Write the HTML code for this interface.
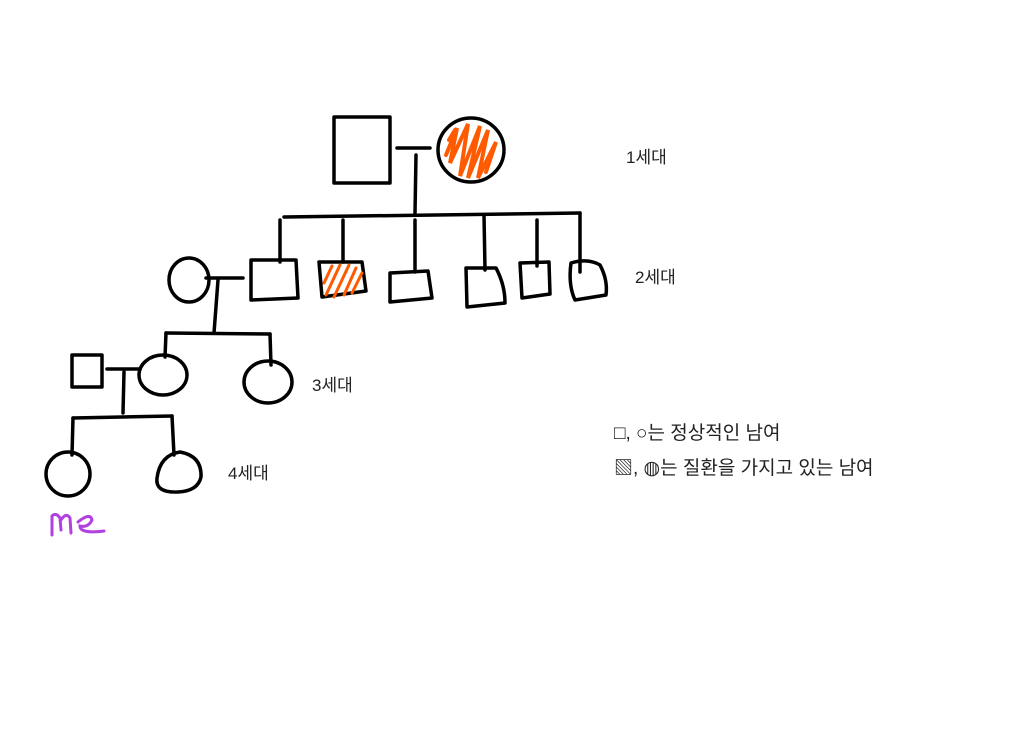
<!DOCTYPE html>
<html><head><meta charset="utf-8"><style>
html,body{margin:0;padding:0;background:#fff;width:1024px;height:734px;overflow:hidden}
svg{display:block}
text{font-family:"Liberation Sans","Noto Sans CJK KR",sans-serif;fill:#222}
</style></head><body>
<svg width="1024" height="734" viewBox="0 0 1024 734">
<g fill="none" stroke="#000" stroke-width="3.5" stroke-linecap="round" stroke-linejoin="round">
<rect x="334" y="117" width="56" height="66"/>
<line x1="397" y1="148" x2="430" y2="148"/>
<ellipse cx="471" cy="150" rx="33" ry="32" fill="#fff"/>
<line x1="416" y1="155" x2="415" y2="213"/>
<line x1="284" y1="217" x2="580" y2="213"/>
<line x1="280" y1="220" x2="280" y2="262"/>
<line x1="343" y1="220" x2="343" y2="262"/>
<line x1="415" y1="220" x2="415" y2="272"/>
<line x1="484" y1="215" x2="485" y2="270"/>
<line x1="537" y1="220" x2="537" y2="266"/>
<line x1="580" y1="213" x2="580" y2="272"/>
<ellipse cx="189" cy="280" rx="20" ry="22"/>
<line x1="206" y1="278" x2="243" y2="278"/>
<line x1="218" y1="280" x2="214" y2="333"/>
<path d="M251 260 L296 260 L298 298 L251 300 Z"/>
<path d="M319 262 L362 262 L366 291 L322 297 Z"/>
<path d="M390 273 L428 271 L432 298 L390 302 Z"/>
<path d="M466 268 L496 268 Q505 285 505 303 L467 307 Z"/>
<path d="M520 263 L549 262 L550 294 L522 298 Z"/>
<path d="M571 263 Q588 258 600 265 Q608 280 606 295 L575 300 Q568 285 571 263 Z"/>
<line x1="166" y1="333" x2="270" y2="334"/>
<line x1="166" y1="333" x2="165" y2="357"/>
<line x1="270" y1="334" x2="271" y2="365"/>
<ellipse cx="163" cy="375" rx="24" ry="20"/>
<ellipse cx="268" cy="382" rx="24" ry="21"/>
<rect x="72" y="355" width="30" height="32"/>
<line x1="107" y1="369" x2="140" y2="369"/>
<line x1="124" y1="372" x2="123" y2="413"/>
<line x1="73" y1="418" x2="172" y2="416"/>
<line x1="73" y1="418" x2="72" y2="455"/>
<line x1="172" y1="416" x2="174" y2="455"/>
<ellipse cx="68" cy="474" rx="22" ry="22"/>
<path d="M157 478 Q160 455 180 452 Q202 456 201 477 Q198 491 178 492 Q155 493 157 478 Z"/>
</g>
<g stroke="#ff5a00" stroke-width="4" stroke-linecap="round" fill="none">
<path d="M446 155 L457 128 L450 163 L468 124 L460 176 L480 126 L468 178 L488 130 L478 178 L496 142 L486 172 M449 140 L455 130"/>
</g>
<g stroke="#ff5a00" stroke-width="3" stroke-linecap="round" fill="none">
<line x1="324" y1="283" x2="332" y2="266"/>
<line x1="326" y1="295" x2="340" y2="265"/>
<line x1="334" y1="297" x2="349" y2="265"/>
<line x1="344" y1="295" x2="356" y2="268"/>
<line x1="352" y1="293" x2="362" y2="273"/>
</g>
<text x="626" y="163" font-size="17">1세대</text>
<text x="635" y="283" font-size="17">2세대</text>
<text x="312" y="391" font-size="17">3세대</text>
<text x="228" y="479" font-size="17">4세대</text>
<text x="614" y="439" font-size="19">□, ○는 정상적인 남여</text>
<text x="614" y="474" font-size="19">▧, ◍는 질환을 가지고 있는 남여</text>
<path d="M52 535 L52 516 Q56 512 60 518 L61 530 M61 520 Q66 512 70 518 L71 533 M78 522 Q90 512 92 520 Q88 528 80 526 Q80 534 104 531" fill="none" stroke="#b040e0" stroke-width="3" stroke-linecap="round"/>
</svg>
</body></html>
